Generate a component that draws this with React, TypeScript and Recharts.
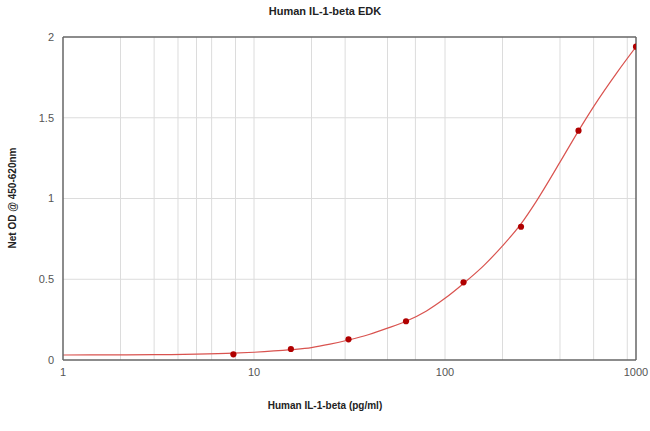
import { ComposedChart, Line, Scatter, XAxis, YAxis, ZAxis, CartesianGrid, ReferenceLine } from "recharts";

// standards (pg/ml) and measured OD
const conc = [7.8, 15.6, 31.25, 62.5, 125, 250, 500, 1000];
const od = [0.035, 0.068, 0.128, 0.24, 0.481, 0.825, 1.42, 1.94];

// fitted curve
const curveX = [1, 2, 3, 5, 7.8, 10, 15.6, 20, 25, 31.25, 40, 50, 62.5, 80, 100, 125, 160, 200, 250, 300, 400, 500, 600, 800, 1000];
const curveY = [0.031, 0.032, 0.033, 0.036, 0.042, 0.048, 0.064, 0.077, 0.098, 0.124, 0.158, 0.197, 0.24, 0.304, 0.382, 0.474, 0.586, 0.707, 0.843, 0.981, 1.225, 1.419, 1.569, 1.784, 1.939];

const xTicks = [1, 10, 100, 1000];
const yTicks = [0, 0.5, 1, 1.5, 2];
const xGrid = [2, 3, 4, 5, 6, 7, 8, 9, 10, 20, 30, 40, 50, 60, 70, 80, 90, 100, 200, 300, 400, 500, 600, 700, 800, 900];
const yGrid = [0.5, 1, 1.5];

const points = conc.map((x, i) => ({ x, y: od[i] }));
const curve = curveX.map((x, i) => ({ x, y: curveY[i] }));

const font = "'Liberation Sans', Arial, sans-serif";
const axisColor = "#666";

export default function App() {
  return (
    <div style={{ position: "relative", width: 650, height: 431, background: "#fff", fontFamily: font }}>
      <style>{`body{margin:0}`}</style>
      <div style={{ position: "absolute", top: 5, left: 0, width: 650, textAlign: "center", fontSize: 11, fontWeight: "bold", color: "#222" }}>
        Human IL-1-beta EDK
      </div>
      <div style={{ position: "absolute", top: 400, left: 0, width: 650, textAlign: "center", fontSize: 10, fontWeight: "bold", color: "#222" }}>
        Human IL-1-beta (pg/ml)
      </div>
      <div style={{ position: "absolute", left: 12, top: 198, transform: "translate(-50%, -50%) rotate(-90deg)", whiteSpace: "nowrap", fontSize: 10, fontWeight: "bold", color: "#222" }}>
        Net OD @ 450-620nm
      </div>
      <ComposedChart width={650} height={431} margin={{ top: 37, right: 14, bottom: 41, left: 35 }}>
        <CartesianGrid verticalValues={xGrid} horizontalValues={yGrid} stroke="#dcdcdc" />
        <XAxis
          dataKey="x"
          type="number"
          scale="log"
          domain={[1, 1000]}
          ticks={xTicks}
          allowDataOverflow
          height={30}
          tickLine={false}
          axisLine={{ stroke: axisColor, strokeWidth: 1.5 }}
          tick={{ fontSize: 11, fill: "#555", fontFamily: font }}
        />
        <YAxis
          dataKey="y"
          type="number"
          domain={[0, 2]}
          ticks={yTicks}
          width={28}
          tickLine={false}
          tickMargin={3}
          axisLine={{ stroke: axisColor, strokeWidth: 1.5 }}
          tick={{ fontSize: 11, fill: "#555", fontFamily: font }}
        />
        <ZAxis range={[30, 30]} />
        <ReferenceLine y={2} stroke={axisColor} strokeWidth={1.5} />
        <ReferenceLine x={1000} stroke={axisColor} strokeWidth={1.5} />
        <Line data={curve} dataKey="y" type="monotone" stroke="#d9534f" strokeWidth={1.2} dot={false} isAnimationActive={false} />
        <Scatter data={points} dataKey="y" fill="#b00000" shape="circle" isAnimationActive={false} />
      </ComposedChart>
    </div>
  );
}
